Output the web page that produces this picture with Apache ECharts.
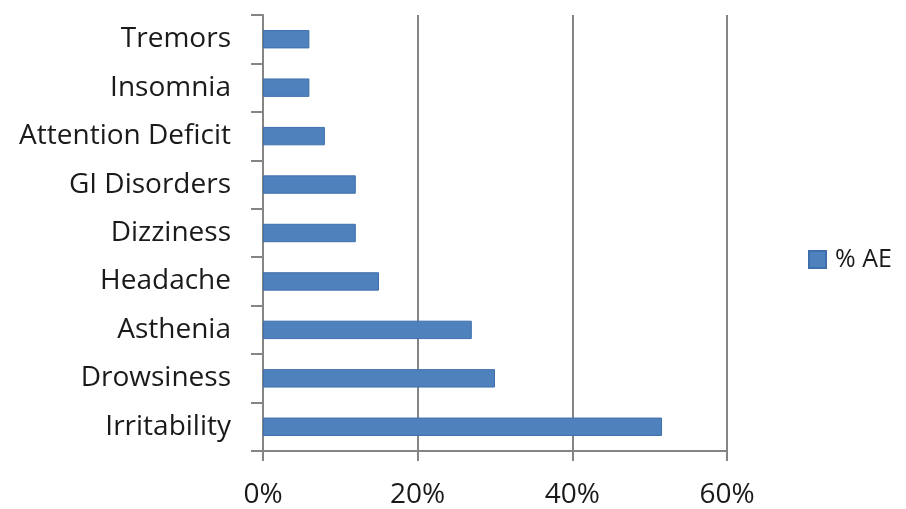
<!DOCTYPE html>
<html>
<head>
<meta charset="utf-8">
<script src="https://cdn.jsdelivr.net/npm/echarts@6/dist/echarts.min.js"></script>
<style>
  html, body { margin: 0; padding: 0; background: #fff; }
  #chart { width: 906px; height: 509px; }
</style>
</head>
<body>
<div id="chart"></div>
<script>
// Adverse events, share of patients (%)
const categories = ['Tremors', 'Insomnia', 'Attention Deficit', 'GI Disorders', 'Dizziness',
                    'Headache', 'Asthenia', 'Drowsiness', 'Irritability'];
const aeValues = [6, 6, 8, 12, 12, 15, 27, 30, 51.6];
const xTicks = [0, 20, 40, 60];

const FONT = '"Open Sans", "Noto Sans", sans-serif';
const AXIS_GRAY = '#858585';
const TEXT = '#1a1a1a';

const chart = echarts.init(document.getElementById('chart'), null, { renderer: 'canvas' });
chart.setOption({
  backgroundColor: '#ffffff',
  animation: false,
  textStyle: { fontFamily: FONT },
  grid: { left: 263, right: 179, top: 15, bottom: 58, containLabel: false },
  legend: {
    data: ['% AE'],
    orient: 'vertical',
    left: 803,
    top: 242,
    icon: 'rect',
    itemWidth: 17,
    itemHeight: 17,
    itemGap: 10,
    textStyle: { fontSize: 25, color: TEXT, fontFamily: FONT, padding: [0, 0, 0, 4] }
  },
  xAxis: {
    type: 'value',
    min: xTicks[0],
    max: xTicks[xTicks.length - 1],
    interval: 20,
    axisLine: { show: true, lineStyle: { color: AXIS_GRAY, width: 2 } },
    axisTick: { show: true, length: 10, lineStyle: { color: AXIS_GRAY, width: 2 } },
    splitLine: { show: true, lineStyle: { color: AXIS_GRAY, width: 2 } },
    axisLabel: {
      fontSize: 28, color: TEXT, margin: 30, fontFamily: FONT,
      formatter: v => v + '%'
    }
  },
  yAxis: {
    type: 'category',
    data: categories,
    inverse: true,
    axisLine: { show: true, lineStyle: { color: AXIS_GRAY, width: 2 } },
    axisTick: { show: true, length: 12, lineStyle: { color: AXIS_GRAY, width: 2 } },
    axisLabel: { fontSize: 28, color: TEXT, margin: 32, fontFamily: FONT }
  },
  series: [{
    name: '% AE',
    type: 'bar',
    data: aeValues,
    barWidth: '38%',
    itemStyle: { color: '#4f81bd', borderColor: '#3f70ad', borderWidth: 1 }
  }]
});
</script>
</body>
</html>
